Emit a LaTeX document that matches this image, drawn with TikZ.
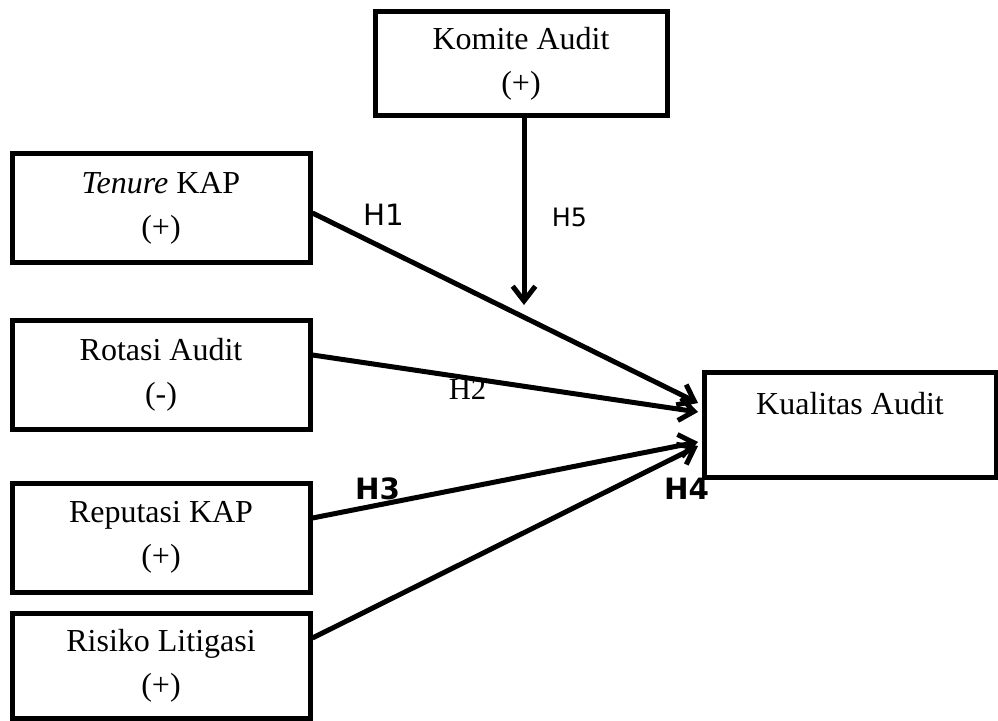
\documentclass[tikz,border=0pt]{standalone}
\usepackage{fontspec}
\setmainfont{Liberation Serif}
\newfontfamily\dejavu{DejaVu Sans}
\usetikzlibrary{arrows.meta,calc}
\begin{document}
\begin{tikzpicture}[x=0.75pt,y=-0.75pt,
  box/.style={draw,line width=3.75pt,rectangle,inner sep=0pt,align=center,
    font=\rmfamily\fontsize{24}{33}\selectfont},
  conn/.style={line width=3.75pt,-{Straight Barb[length=11pt,width=17pt,line width=3.75pt]}},
  hlab/.style={inner sep=0pt,font=\dejavu\fontsize{22}{26}\selectfont},
  hlabb/.style={inner sep=0pt,font=\dejavu\bfseries\fontsize{22}{26}\selectfont},
  hlabs/.style={inner sep=0pt,font=\rmfamily\fontsize{23}{27}\selectfont}]
\useasboundingbox (0,0) rectangle (998,720);
\node[box,minimum width=292*0.75pt,minimum height=104*0.75pt] (kom) at (521,64) {Komite Audit\\(+)};
\node[box,minimum width=298*0.75pt,minimum height=108*0.75pt] (ten) at (161,208) {\textit{Tenure} KAP\\(+)};
\node[box,minimum width=298*0.75pt,minimum height=109*0.75pt] (rot) at (161,374.5) {Rotasi Audit\\(-)};
\node[box,minimum width=298*0.75pt,minimum height=109*0.75pt] (rep) at (161,537.5) {Reputasi KAP\\(+)};
\node[box,minimum width=298*0.75pt,minimum height=105*0.75pt] (ris) at (161,665.5) {Risiko Litigasi\\(+)};
\node[box,minimum width=292*0.75pt,minimum height=105*0.75pt] (kua) at (850,425) {Kualitas Audit\\\mbox{}};
\coordinate (t1) at (698,403);
\coordinate (t2) at (698,412);
\coordinate (t3) at (698,442);
\coordinate (t4) at (698,446);
\coordinate (t5) at (524,305);
\draw[conn] ($(ten.east)+(0,5)$) -- (t1);
\draw[conn] ($(rot.east)+(0,-19.5)$) -- (t2);
\draw[conn] ($(rep.east)+(0,-19.5)$) -- (t3);
\draw[conn] ($(ris.east)+(0,-27.5)$) -- (t4);
\draw[conn] ($(kom.south)+(3,0)$) -- (t5);
\node[hlab] (h1) at (384,215) {H1};
\node[hlab,font=\dejavu\fontsize{19}{23}\selectfont] (h5) at (569.5,217.5) {H5};
\node[hlabs] (h2) at (467.5,389) {H2};
\node[hlabb] (h3) at (377.5,488.5) {H3};
\node[hlabb] (h4) at (686.5,488.5) {H4};
\end{tikzpicture}
\end{document}
